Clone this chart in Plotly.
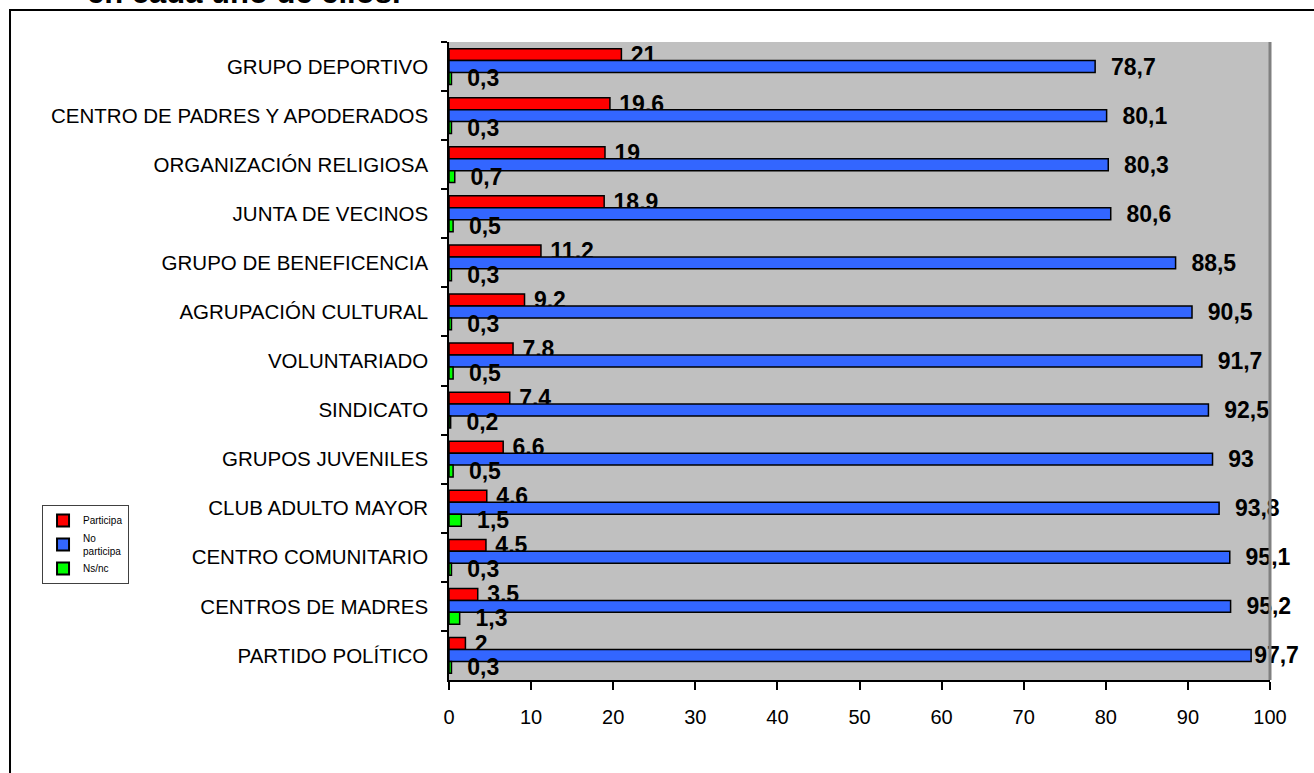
import plotly.graph_objects as go

categories = ["GRUPO DEPORTIVO", "CENTRO DE PADRES Y APODERADOS", "ORGANIZACIÓN RELIGIOSA",
              "JUNTA DE VECINOS", "GRUPO DE BENEFICENCIA", "AGRUPACIÓN CULTURAL",
              "VOLUNTARIADO", "SINDICATO", "GRUPOS JUVENILES", "CLUB ADULTO MAYOR",
              "CENTRO COMUNITARIO", "CENTROS DE MADRES", "PARTIDO POLÍTICO"]
participa = [21, 19.6, 19, 18.9, 11.2, 9.2, 7.8, 7.4, 6.6, 4.6, 4.5, 3.5, 2]
no_participa = [78.7, 80.1, 80.3, 80.6, 88.5, 90.5, 91.7, 92.5, 93, 93.8, 95.1, 95.2, 97.7]
ns_nc = [0.3, 0.3, 0.7, 0.5, 0.3, 0.3, 0.5, 0.2, 0.5, 1.5, 0.3, 1.3, 0.3]
x_ticks = [0, 10, 20, 30, 40, 50, 60, 70, 80, 90, 100]

FONT = "Liberation Sans, Arial, sans-serif"


def fmt(vals, pad):
    # labels near the right edge are kept inside the chart (no extra padding)
    return [(pad if v < 97 else "") + str(v).replace(".", ",") for v in vals]


series = [
    ("Participa", participa, "#FF0000", "\u00a0"),
    ("No<br>participa", no_participa, "#3366FF", "\u00a0\u00a0"),
    ("Ns/nc", ns_nc, "#00FF00", "\u00a0\u00a0"),
]

fig = go.Figure()
for name, vals, color, pad in series:
    fig.add_trace(go.Bar(
        y=categories, x=vals, name=name, orientation="h",
        marker=dict(color=color, line=dict(color="black", width=1.5)),
        text=fmt(vals, pad), textposition="outside", constraintext="none",
        textfont=dict(family=FONT, size=23, color="black", weight="bold"),
        cliponaxis=False,
    ))

fig.update_layout(
    width=1314, height=773,
    margin=dict(l=449, r=44, t=42, b=93),
    paper_bgcolor="white", plot_bgcolor="#C0C0C0",
    barmode="group", bargap=0.27, bargroupgap=0,
    font=dict(family=FONT, color="black"),
    showlegend=True,
    legend=dict(x=-0.4957, y=0.2743, xanchor="left", yanchor="top",
                bgcolor="white", bordercolor="#404040", borderwidth=1,
                font=dict(size=10, family=FONT), tracegroupgap=0,
                itemsizing="constant", itemwidth=30),
    xaxis=dict(range=[0, 100], tickvals=x_ticks, showgrid=False, zeroline=False,
               showline=True, linecolor="black", linewidth=1.5,
               ticks="outside", ticklen=8, tickcolor="black", tickwidth=1.5,
               tickfont=dict(size=20, family=FONT), ticklabelstandoff=10),
    yaxis=dict(autorange="reversed", showgrid=False, zeroline=False,
               showline=True, linecolor="black", linewidth=1.5,
               ticks="outside", ticklen=6, tickcolor="black", tickwidth=1.5,
               tickson="boundaries",
               tickfont=dict(size=20.5, family=FONT), ticklabelstandoff=15),
    shapes=[
        dict(type="line", xref="paper", yref="paper", x0=1, x1=1, y0=0, y1=1,
             line=dict(color="#808080", width=3)),
        dict(type="rect", xref="paper", yref="paper", x0=-0.5347, x1=1.07,
             y0=-0.16, y1=1.0502, line=dict(color="black", width=2),
             fillcolor="rgba(0,0,0,0)", layer="below"),
    ],
    annotations=[
        dict(text="<b>en cada uno de ellos.</b>", xref="paper", yref="paper",
             x=-0.4434, y=1.047, xanchor="left", yanchor="bottom",
             showarrow=False, font=dict(size=31, family=FONT, color="black")),
    ],
)

fig.write_html("out.html", config={"displayModeBar": False},
               post_script="document.body.style.margin='0';document.body.style.overflow='hidden';")
